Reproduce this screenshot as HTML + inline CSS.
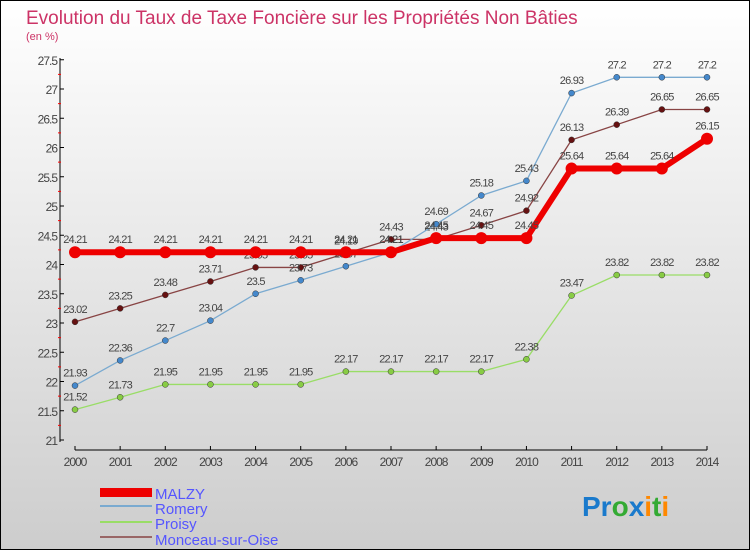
<!DOCTYPE html>
<html><head><meta charset="utf-8"><style>
body{margin:0;width:750px;height:550px;overflow:hidden;font-family:"Liberation Sans",sans-serif}
</style></head><body>
<svg id="c" width="750" height="550" xmlns="http://www.w3.org/2000/svg">
<defs><linearGradient id="bg" x1="0" y1="0" x2="0" y2="1"><stop offset="0" stop-color="#ffffff"/><stop offset="1" stop-color="#cdcdcd"/></linearGradient></defs>
<rect x="0.5" y="0.5" width="749" height="549" fill="url(#bg)" stroke="#000"/>
<text x="26" y="24" font-size="19" fill="#cc3366">Evolution du Taux de Taxe Foncière sur les Propriétés Non Bâties</text>
<text x="26" y="40" font-size="11" fill="#cc3366">(en %)</text>
<g id="axes"></g><g id="series"></g>
<g>
<rect x="100" y="488" width="52" height="9" fill="#ee0000"/>
<text x="155" y="499" font-size="15" fill="#5555ff">MALZY</text>
<rect x="100" y="505" width="52" height="2" fill="#7aaad0"/>
<text x="155" y="514" font-size="15" fill="#5555ff">Romery</text>
<rect x="100" y="521" width="52" height="2" fill="#99dd66"/>
<text x="155" y="529" font-size="15" fill="#5555ff">Proisy</text>
<rect x="100" y="536" width="52" height="2" fill="#996666"/>
<text x="155" y="545" font-size="15" fill="#5555ff">Monceau-sur-Oise</text>
</g>
<text x="582" y="516" font-size="28" font-weight="bold"><tspan fill="#1a7acc">Pr</tspan><tspan fill="#33aa33">o</tspan><tspan fill="#1a7acc">x</tspan><tspan fill="#ff8800">i</tspan><tspan fill="#33aa33">t</tspan><tspan fill="#ff8800">i</tspan></text>
</svg>
<script>
const years=[2000,2001,2002,2003,2004,2005,2006,2007,2008,2009,2010,2011,2012,2013,2014];
const yTicks=[21,21.5,22,22.5,23,23.5,24,24.5,25,25.5,26,26.5,27,27.5];
const malzy=[24.21,24.21,24.21,24.21,24.21,24.21,24.21,24.21,24.45,24.45,24.45,25.64,25.64,25.64,26.15];
const romery=[21.93,22.36,22.7,23.04,23.5,23.73,23.97,24.21,24.69,25.18,25.43,26.93,27.2,27.2,27.2];
const proisy=[21.52,21.73,21.95,21.95,21.95,21.95,22.17,22.17,22.17,22.17,22.38,23.47,23.82,23.82,23.82];
const monceau=[23.02,23.25,23.48,23.71,23.95,23.95,24.19,24.43,24.43,24.67,24.92,26.13,26.39,26.65,26.65];
const NS="http://www.w3.org/2000/svg";
const X=i=>75+i*(707-75)/(years.length-1);
const Y=v=>440-(v-21)*58.5;
function mk(t,a,p){const e=document.createElementNS(NS,t);for(const k in a)e.setAttribute(k,a[k]);p.appendChild(e);return e;}
const ax=document.getElementById('axes');
const yl=mk('line',{x1:60,y1:58,x2:60,y2:442,stroke:'#000'},ax);


yTicks.forEach((v,k)=>{
 mk('line',{x1:60,y1:Y(v),x2:64,y2:Y(v),stroke:'#000'},ax);
 if(k<yTicks.length-1) mk('line',{x1:58,y1:Y(v+0.25),x2:61,y2:Y(v+0.25),stroke:'#f00'},ax);
 const t=mk('text',{x:57,y:Y(v)+5,'text-anchor':'end','font-size':12,fill:'#444','letter-spacing':'-1'},ax);
 t.textContent=v;
 
 
});
const xl=mk('line',{x1:75,y1:450,x2:707,y2:450,stroke:'#000'},ax);


years.forEach((y,i)=>{
 mk('line',{x1:X(i),y1:446,x2:X(i),y2:450,stroke:'#000'},ax);
 const t=mk('text',{x:X(i),y:466,'text-anchor':'middle','font-size':12,fill:'#444','letter-spacing':'-1'},ax);
 t.textContent=y;
 
 
});
const sg=document.getElementById('series');
function series(name,data,col,w,r,dot){
 const g=mk('g',{},sg);
 
 
 mk('polyline',{points:data.map((v,i)=>X(i)+','+Y(v)).join(' '),fill:'none',stroke:col,'stroke-width':w},g);
 data.forEach((v,i)=>{
  const c=mk('circle',{cx:X(i),cy:Y(v),r:r,fill:dot,stroke:'#333','stroke-width':r>4?0:0.5},g);
  
  
  const t=mk('text',{x:X(i),y:Y(v)-9,'text-anchor':'middle','font-size':11,fill:'#444','letter-spacing':'-0.8'},g);
  t.textContent=v;
  
  
 });
}
series('proisy',proisy,'#99dd66',1.3,3,'#88cc44');
series('monceau',monceau,'#884444',1.3,3,'#661111');
series('romery',romery,'#7aaad0',1.3,3,'#4488cc');
series('malzy',malzy,'#ee0000',6,6,'#ee0000');
</script>
</body></html>
